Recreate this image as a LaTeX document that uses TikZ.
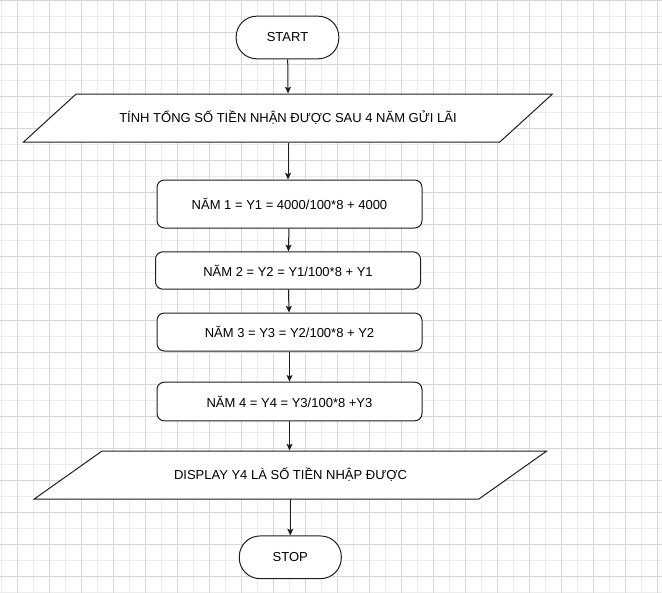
\documentclass[tikz,border=0pt]{standalone}
\usepackage{fontspec}
\setmainfont{Liberation Sans}
\usepackage{xcolor}
\usetikzlibrary{shapes,arrows.meta,positioning,calc}
\definecolor{gridminor}{RGB}{236,236,236}
\definecolor{gridmajor}{RGB}{214,214,214}
\definecolor{lineclr}{RGB}{30,30,30}

\begin{document}
\begin{tikzpicture}[x=0.75pt,y=-0.75pt,
            font=\fontsize{9.75}{12}\selectfont,
            terminal/.style={rectangle, draw=lineclr, fill=white, rounded corners=15.5pt, minimum width=#1, minimum height=32pt, inner sep=0pt},
            io/.style={trapezium, draw=lineclr, fill=white, trapezium left angle=18, trapezium right angle=162, trapezium stretches, minimum width=#1, minimum height=36pt, inner sep=0pt},
            process/.style={rectangle, draw=lineclr, fill=white, rounded corners=5.5pt, minimum width=198.75pt, minimum height=#1, inner sep=0pt},
            flow/.style={draw=lineclr, line width=0.75pt, -{Stealth[length=5pt,width=4.5pt,inset=1pt]}}]

            % Background grid
            \useasboundingbox (0,0) rectangle (662,593);
            \foreach \gx in {1.5,33.5,...,662} \draw[gridminor, line width=0.75pt] (\gx,0) -- (\gx,593);
            \foreach \gy in {16.5,48.5,...,593} \draw[gridminor, line width=0.75pt] (0,\gy) -- (662,\gy);
            \foreach \gx in {17.5,49.5,...,662} \draw[gridmajor, line width=0.75pt] (\gx,0) -- (\gx,593);
            \foreach \gy in {0.5,32.5,...,593} \draw[gridmajor, line width=0.75pt] (0,\gy) -- (662,\gy);

            % Start and input
            \node[terminal=77pt, line width=0.75pt] (start) at (287.5,37.5) {START};
            \node[io=397.5pt, line width=0.75pt] (tinh) at (288,118) {TÍNH TỔNG SỐ TIỀN NHẬN ĐƯỢC SAU 4 NĂM GỬI LÃI};

            % Years
            \node[process=36pt, line width=0.75pt] (nam1) at (289.5,204) {NĂM 1 = Y1 = 4000/100*8 + 4000};
            \node[process=28pt, line width=0.75pt] (nam2) at (288,270.5) {NĂM 2 = Y2 = Y1/100*8 + Y1};
            \node[process=28.5pt, line width=0.75pt] (nam3) at (289.5,332) {NĂM 3 = Y3 = Y2/100*8 + Y2};
            \node[process=29pt, line width=0.75pt] (nam4) at (289.5,401.5) {NĂM 4 = Y4 = Y3/100*8 +Y3};

            % Output and stop
            \node[io=385.5pt, line width=0.75pt] (display) at (290.5,475) {DISPLAY Y4 LÀ SỐ TIỀN NHẬP ĐƯỢC};
            \node[terminal=76.5pt, line width=0.75pt] (stop) at (290.3,557.3) {STOP};

            % Connections
            \draw[flow] (start) -- (tinh.north);
            \draw[flow] (tinh.south) -- (tinh.south |- nam1.north);
            \draw[flow] (nam1) -- (nam2);
            \draw[flow] (nam2) -- (nam3);
            \draw[flow] (nam3) -- (nam4);
            \draw[flow] (nam4) -- (nam4 |- display.north);
            \draw[flow] (display.south) -- (display.south -| stop) -- (stop);
        \end{tikzpicture}
\end{document}
